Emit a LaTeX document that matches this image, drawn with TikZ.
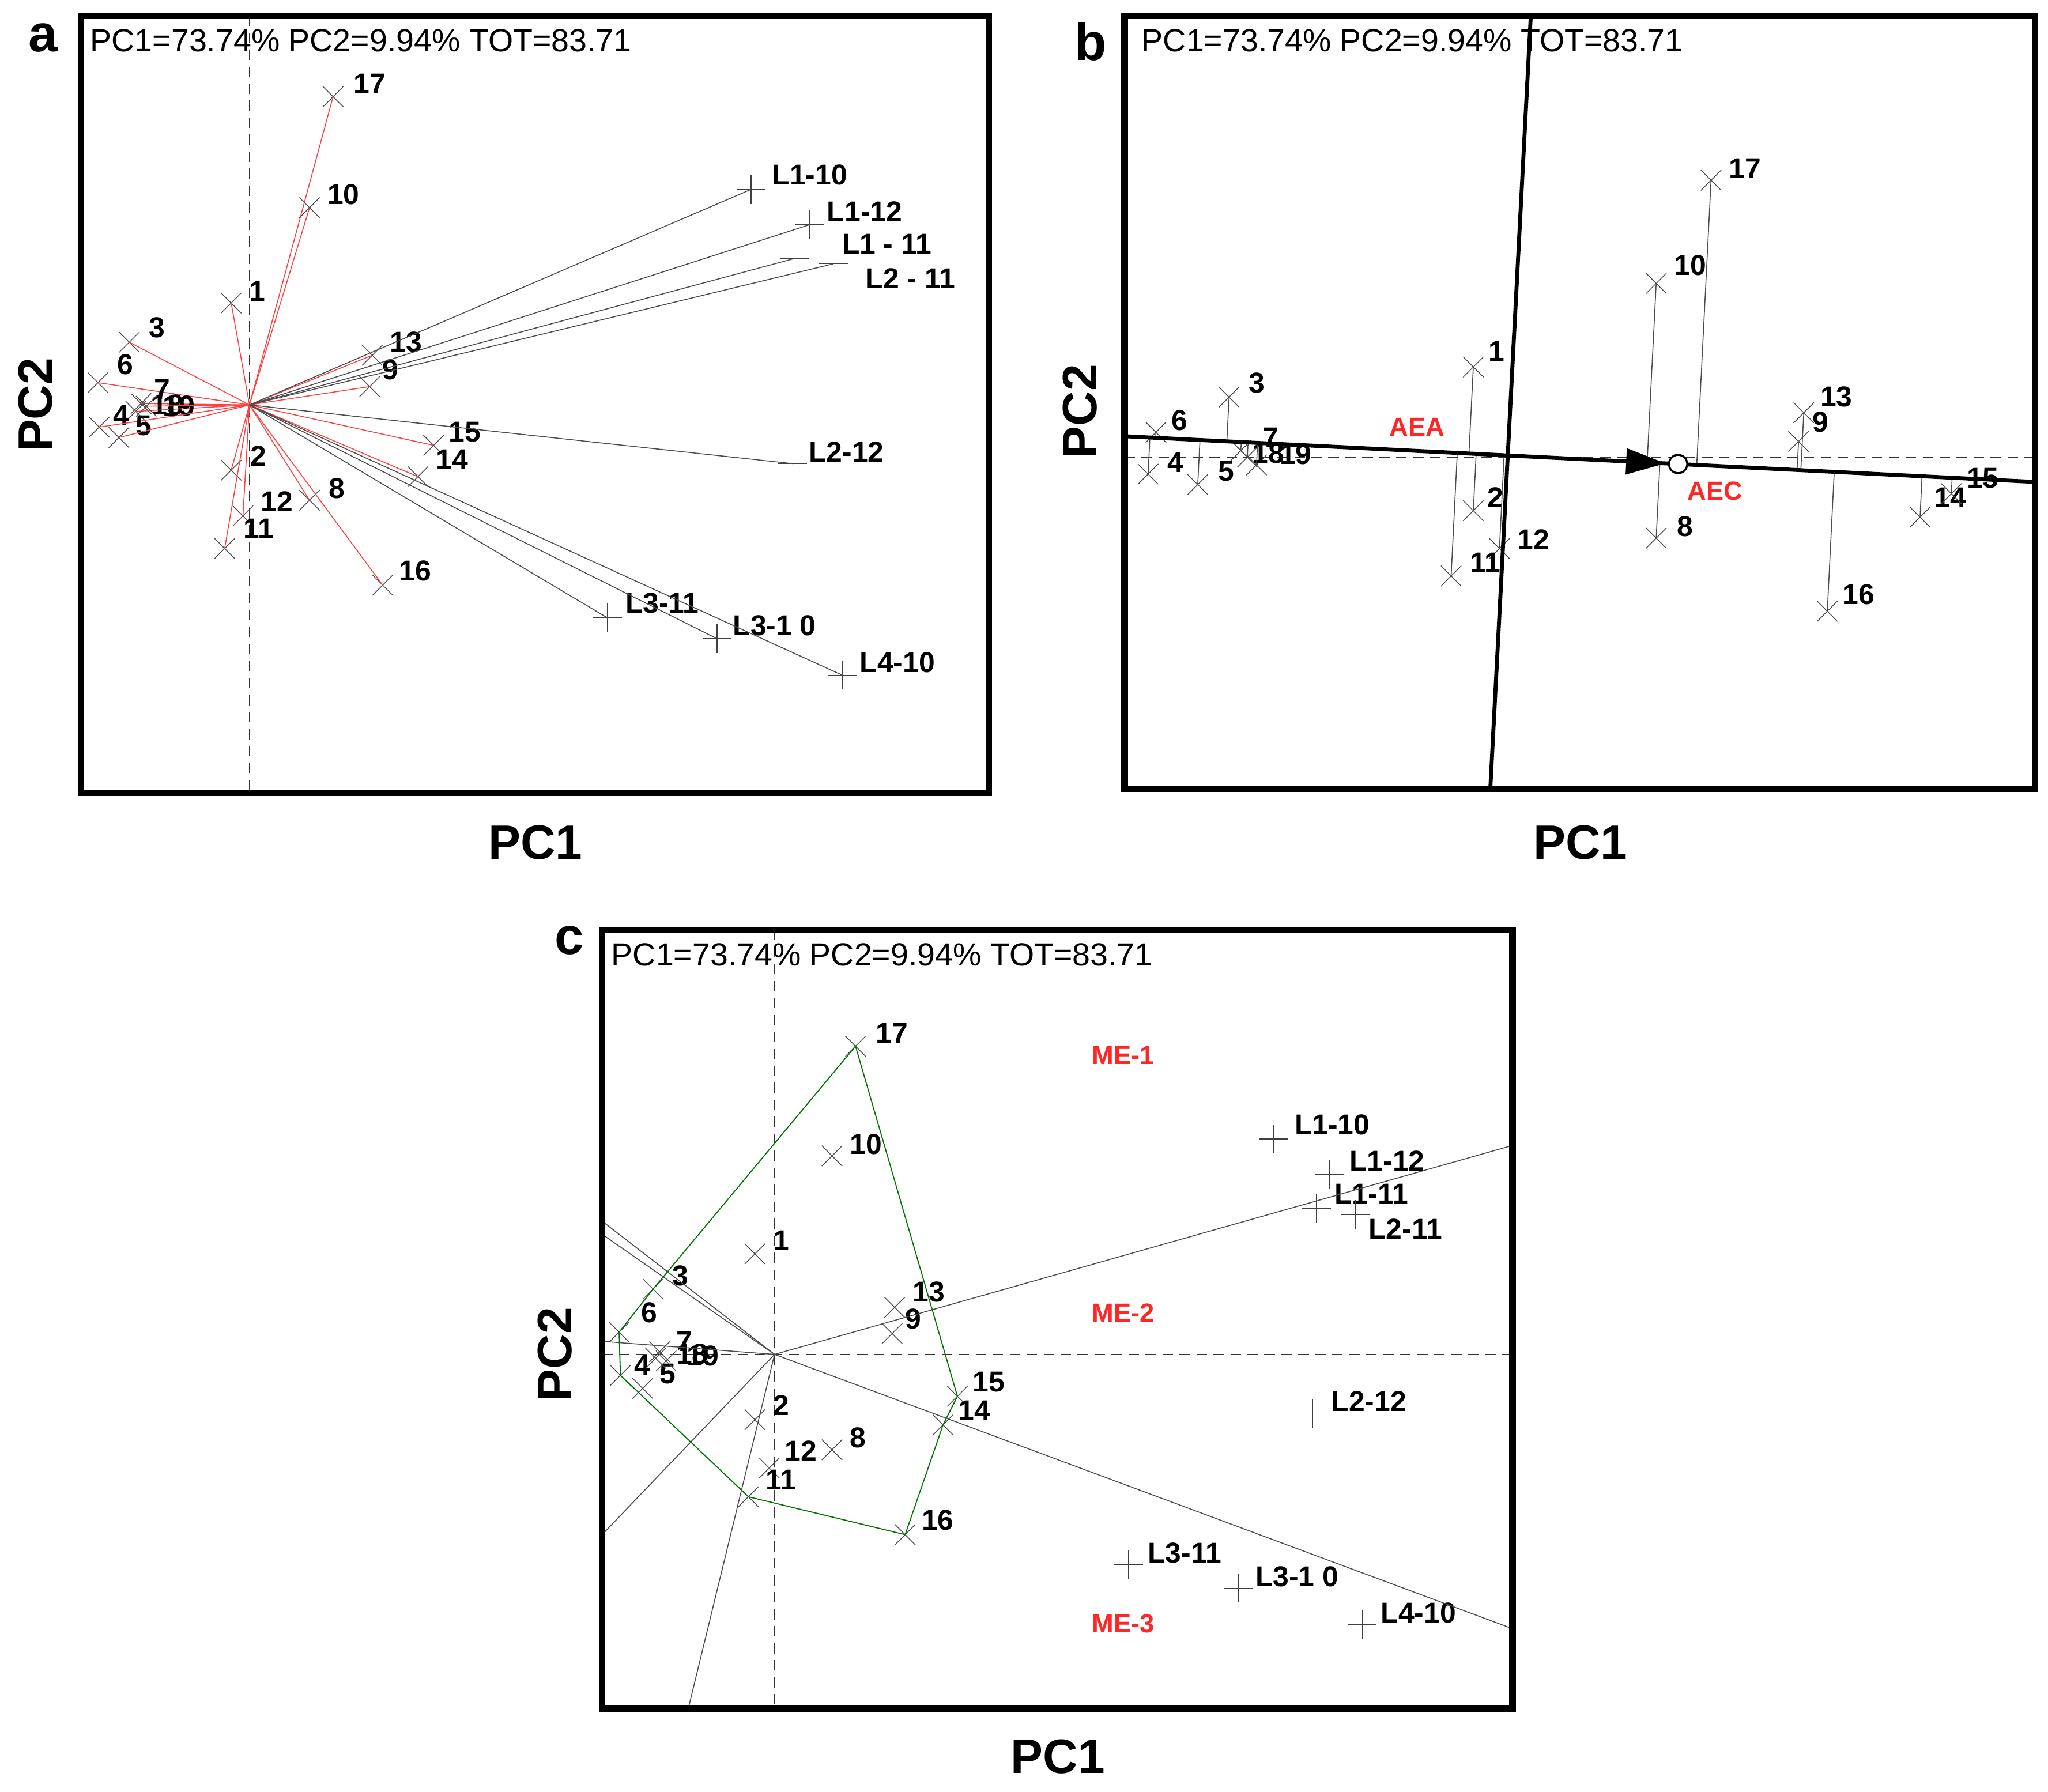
\documentclass[tikz,border=0pt]{standalone}
\usepackage{fontspec}
\setmainfont{Liberation Sans}
\usetikzlibrary{calc,shapes.misc,arrows.meta}
\begin{document}
\begin{tikzpicture}[x=1pt,y=-1pt,
  xm/.style={cross out,draw=black!70,line width=0.6pt,minimum size=15pt,inner sep=0pt},
  pm/.style={cross out,rotate=45,draw=black!75,line width=0.6pt,minimum size=15pt,inner sep=0pt},
  lab/.style={font=\fontsize{22}{22}\selectfont\bfseries,inner sep=0pt},
  hdr/.style={font=\fontsize{24.5}{24.5}\selectfont,anchor=west,inner sep=0pt},
  axl/.style={font=\fontsize{37}{37}\selectfont\bfseries,inner sep=0pt},
  pan/.style={font=\fontsize{40}{40}\selectfont\bfseries,inner sep=0pt},
  redl/.style={font=\fontsize{20}{20}\selectfont\bfseries,text=red!85,inner sep=0pt},
  frame/.style={line width=5pt},
  dsh/.style={dashed,dash pattern=on 8pt off 5pt,black!80,line width=0.7pt},
  ray/.style={black!70,line width=0.7pt},
  rray/.style={red!75,line width=0.7pt}]
\useasboundingbox (0,0) rectangle (1568,1372);
% ================= Panel a =================
\coordinate (ao) at (191,310);
\draw[dsh] (191,12) -- (191,607);
\draw[dsh] (62,310) -- (757,310);
\foreach \n/\t/\x/\y/\lx/\ly in {17/17/255/74/283/64,10/10/237/159/263/149,1/1/177/232/197/223,3/3/99/262/120/251,
  6/6/75/293/96/279,7/7/108/309/124/298,18/18/104/315/128/310,19/19/112/311/137/311,4/4/76/327/93/318,5/5/91/335/110/326,
  2/2/177/360/198/349,12/12/186/395/212/384,11/11/172/420/198/405,8/8/237/383/258/374,16/16/293/448/318/437,
  15/15/332/341/356/331,14/14/320/365/346/352,13/13/285/272/311/262,9/9/283/296/299/283}{
  \node[xm] (a\n) at (\x,\y) {};
  \node[lab] (al\n) at (\lx,\ly) {\t};
  \draw[rray] (ao) -- (a\n.center);
}
\foreach \n/\t/\x/\y/\lx/\ly in {L110/L1-10/575/145/620/134,L112/L1-12/620/172/662/162,L111/L1 - 11/608/198/679/187,
  L211/L2 - 11/638/202/697/213,L212/L2-12/607/355/648/346,L311/L3-11/465/473/507/462,L310/L3-1 0/549/489/593/479,L410/L4-10/645/517/687/507}{
  \node[pm] (a\n) at (\x,\y) {};
  \node[lab] (al\n) at (\lx,\ly) {\t};
  \draw[ray] (ao) -- (a\n.center);
}
\draw[frame] (62,12) rectangle (757,607);
\node[hdr] (ah) at (69,31) {PC1=73.74\% PC2=9.94\% TOT=83.71};
\node[pan] (ap) at (33,29) {a};
\node[axl,rotate=90] (ay) at (27,310) {PC2};
\node[axl] (ax) at (410,645) {PC1};
% ================= Panel b =================
\coordinate (bA) at (861,334);
\coordinate (bB) at (1558,369);
\draw[dsh] (1156,12) -- (1156,604);
\draw[dsh] (861,350) -- (1558,350);
\foreach \n/\t/\x/\y/\lx/\ly in {17/17/1310/138/1336/129,10/10/1268/217/1294/203,1/1/1128/281/1146/269,3/3/941/304/962/293,
  6/6/885/331/903/322,4/4/879/363/900/354,5/5/917/371/939/361,7/7/955/350/973/335,18/18/962/356/971/347,19/19/950/345/992/348,
  2/2/1128/391/1145/381,12/12/1148/420/1174/413,11/11/1111/441/1137/431,8/8/1268/412/1290/403,16/16/1399/468/1423/455,
  13/13/1381/316/1406/304,9/9/1377/338/1394/323,14/14/1470/396/1493/381,15/15/1494/378/1518/366}{
  \node[xm] (b\n) at (\x,\y) {};
  \node[lab] (bl\n) at (\lx,\ly) {\t};
  \draw[ray] (b\n.center) -- ($(bA)!(b\n.center)!(bB)$);
}
\draw[line width=3pt] (bA) -- (bB);
\coordinate (bC) at (1172,12);
\coordinate (bD) at (1141,604);
\draw[line width=3pt] (bC) -- (bD);
\coordinate (bt0) at ($(bA)!0.545!(bB)$);
\coordinate (bt1) at ($(bA)!0.594!(bB)$);
\draw[line width=1pt,-{Triangle[length=30pt,width=20pt]}] (bt0) -- (bt1);
\node[circle,draw=black,line width=1.5pt,fill=white,minimum size=14pt,inner sep=0pt] (bc) at ($(bA)!0.608!(bB)$) {};
\node[redl] (baea) at (1085,327) {AEA};
\node[redl] (baec) at (1313,376) {AEC};
\draw[frame] (861,12) rectangle (1558,604);
\node[hdr] (bh) at (874,31) {PC1=73.74\% PC2=9.94\% TOT=83.71};
\node[pan] (bp) at (835,32) {b};
\node[axl,rotate=90] (by) at (827,315) {PC2};
\node[axl] (bx) at (1210,645) {PC1};
% ================= Panel c =================
\coordinate (co) at (593,1037);
\draw[dsh] (593,712) -- (593,1308);
\draw[dsh] (461,1037) -- (1158,1037);
\foreach \n/\t/\x/\y/\lx/\ly in {17/17/655/801/683/791,10/10/637/885/663/876,1/1/578/960/598/950,3/3/500/987/521/977,
  6/6/474/1020/497/1005,4/4/475/1053/492/1045,5/5/492/1063/511/1052,7/7/505/1035/524/1027,18/18/510/1042/530/1037,19/19/502/1040/538/1038,
  2/2/578/1087/598/1076,12/12/589/1124/613/1111,11/11/573/1146/598/1133,8/8/637/1110/657/1101,16/16/693/1175/718/1164,
  13/13/685/1001/711/989,9/9/683/1021/699/1010,15/15/733/1069/757/1058,14/14/722/1091/746/1080}{
  \node[xm] (c\n) at (\x,\y) {};
  \node[lab] (cl\n) at (\lx,\ly) {\t};
}
\foreach \n/\t/\x/\y/\lx/\ly in {L110/L1-10/975/872/1020/861,L112/L1-12/1018/899/1062/889,L111/L1-11/1008/925/1050/914,
  L211/L2-11/1038/930/1076/941,L212/L2-12/1005/1082/1048/1073,L311/L3-11/864/1198/907/1189,L310/L3-1 0/948/1216/993/1207,L410/L4-10/1043/1244/1086/1235}{
  \node[pm] (c\n) at (\x,\y) {};
  \node[lab] (cl\n) at (\lx,\ly) {\t};
}
\draw[green!45!black,line width=0.8pt] (c17.center) -- (c15.center) -- (c14.center) -- (c16.center) -- (c11.center)
  -- (c4.center) -- (c6.center) -- (c3.center) -- cycle;
\foreach \i/\x/\y in {1/1158/877,2/1158/1247,3/461/935,4/461/945,5/461/1027,6/461/1175,7/527/1308}{
  \coordinate (ce\i) at (\x,\y);
  \draw[ray] (co) -- (ce\i);
}
\node[redl] (cm1) at (860,808) {ME-1};
\node[redl] (cm2) at (860,1005) {ME-2};
\node[redl] (cm3) at (860,1243) {ME-3};
\draw[frame] (461,712) rectangle (1158,1308);
\node[hdr] (ch) at (468,731) {PC1=73.74\% PC2=9.94\% TOT=83.71};
\node[pan] (cp) at (436,720) {c};
\node[axl,rotate=90] (cy) at (425,1037) {PC2};
\node[axl] (cx) at (810,1345) {PC1};
\end{tikzpicture}
\end{document}
